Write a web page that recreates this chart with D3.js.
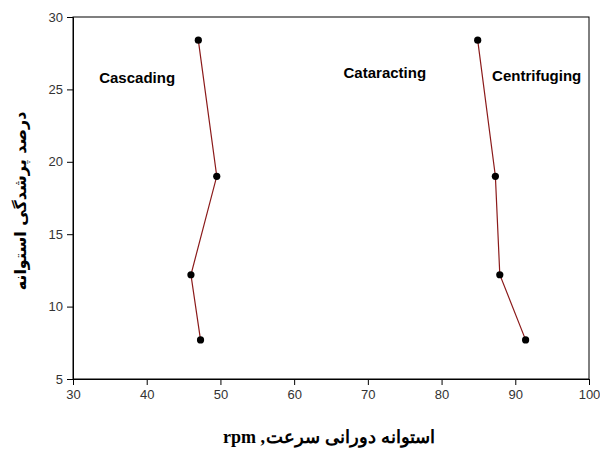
<!DOCTYPE html>
<html>
<head>
<meta charset="utf-8">
<script src="https://cdn.jsdelivr.net/npm/d3@7"></script>
<style>
  body { margin: 0; background: #fff; }
  svg { display: block; }
</style>
</head>
<body>
<svg id="chart"></svg>
<script>
// data
const cascadingX = [47.0, 49.5, 46.0, 47.3]
const cascadingY = [28.4, 19.0, 12.2, 7.7]
const centrifugingX = [84.9, 87.3, 87.9, 91.4]
const centrifugingY = [28.4, 19.0, 12.2, 7.7]
const xTicks = [30, 40, 50, 60, 70, 80, 90, 100]
const yTicks = [5, 10, 15, 20, 25, 30]
const regimeNames = ['Cascading', 'Cataracting', 'Centrifuging']
const regimeX = [38.7, 72.3, 92.9]
const regimeY = [25.45, 25.8, 25.6]

const W = 600, H = 450
const m = {top: 17, right: 11, bottom: 71, left: 73}
const w = W - m.left - m.right
const h = H - m.top - m.bottom

const svg = d3.select('#chart').attr('width', W).attr('height', H)
const g = svg.append('g').attr('transform', `translate(${m.left},${m.top})`)

const xScale = d3.scaleLinear().domain([30, 100]).range([0, w])
const yScale = d3.scaleLinear().domain([5, 30]).range([h, 0])

// plot box
g.append('rect')
  .attr('width', w).attr('height', h)
  .attr('fill', 'none').attr('stroke', '#000').attr('stroke-width', 1)

// axes
const xAxis = d3.axisBottom(xScale).tickValues(xTicks).tickSize(6).tickPadding(5)
const yAxis = d3.axisLeft(yScale).tickValues(yTicks).tickSize(6).tickPadding(4)

const gx = g.append('g').attr('transform', `translate(0,${h})`).call(xAxis)
const gy = g.append('g').call(yAxis)
for (const a of [gx, gy]) {
  a.select('.domain').attr('stroke', '#000')
  a.selectAll('.tick line').attr('stroke', '#000')
  a.selectAll('.tick text')
    .attr('fill', '#333')
    .style('font-family', 'Liberation Sans, Arial, sans-serif')
    .style('font-size', '13px')
}

// series
const series = [
  d3.zip(cascadingX, cascadingY),
  d3.zip(centrifugingX, centrifugingY)
]
const line = d3.line().x(d => xScale(d[0])).y(d => yScale(d[1]))

series.forEach(s => {
  g.append('path')
    .datum(s)
    .attr('d', line)
    .attr('fill', 'none')
    .attr('stroke', '#8b1a1a')
    .attr('stroke-width', 1.2)
  g.selectAll(null)
    .data(s)
    .enter()
    .append('circle')
    .attr('cx', d => xScale(d[0]))
    .attr('cy', d => yScale(d[1]))
    .attr('r', 3.6)
    .attr('fill', '#000')
})

// regime labels
g.selectAll(null)
  .data(regimeNames)
  .enter()
  .append('text')
  .attr('x', (d, i) => xScale(regimeX[i]))
  .attr('y', (d, i) => yScale(regimeY[i]))
  .attr('text-anchor', 'middle')
  .style('font-family', 'Liberation Sans, Arial, sans-serif')
  .style('font-size', '15px')
  .style('font-weight', 'bold')
  .attr('fill', '#000')
  .text(d => d)

// x axis label: words laid out left to right as in the picture
const xLabelParts = ['rpm ,', 'سرعت', 'دورانی', 'استوانه']
const xl = svg.append('g')
let cx = 0
xLabelParts.forEach((p, i) => {
  const t = xl.append('text')
    .attr('x', cx)
    .attr('y', 443)
    .style('font-family', 'Liberation Serif, Times New Roman, serif')
    .style('font-size', '18px')
    .style('font-weight', 'bold')
    .text(p)
  cx += t.node().getComputedTextLength() + (i === 0 ? 1 : 5)
})
cx -= 5
xl.attr('transform', `translate(${m.left + w / 2 - 2 - cx / 2},0)`)

svg.append('text')
  .attr('transform', `translate(26,${m.top + h / 2 + 3}) rotate(-90)`)
  .attr('text-anchor', 'middle')
  .attr('direction', 'rtl')
  .style('font-family', 'DejaVu Sans, sans-serif')
  .style('font-size', '16px')
  .style('font-weight', 'bold')
  .text('درصد پرشدگی استوانه')
</script>
</body>
</html>
